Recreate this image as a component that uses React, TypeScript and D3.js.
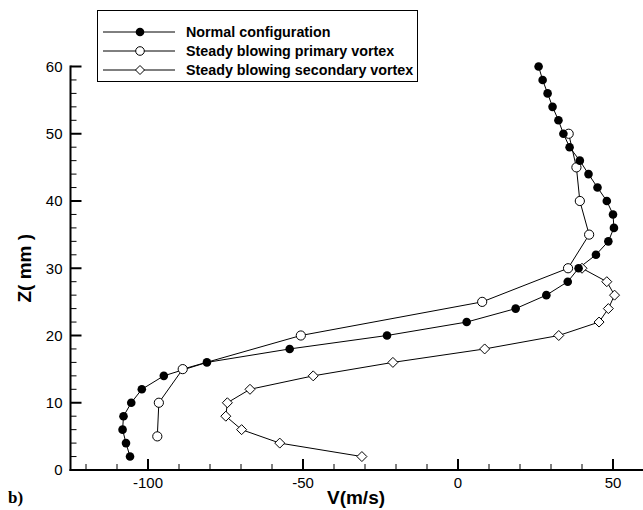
import React from "react";
import * as d3 from "d3";

const zNormal = [2, 4, 6, 8, 10, 12, 14, 16, 18, 20, 22, 24, 26, 28, 30, 32, 34, 36, 38, 40, 42, 44, 46, 48, 50, 52, 54, 56, 58, 60];
const vNormal = [-105.8, -107.1, -108.2, -107.9, -105.4, -102.0, -94.9, -81.0, -54.3, -22.9, 2.8, 18.6, 28.5, 35.4, 38.9, 44.5, 48.5, 50.3, 50.0, 48.0, 45.0, 42.1, 39.3, 36.0, 34.0, 32.4, 30.5, 28.9, 27.3, 26.0];

const zPrimary = [5, 10, 15, 20, 25, 30, 35, 40, 45, 50];
const vPrimary = [-97.0, -96.5, -88.8, -50.7, 7.8, 35.5, 42.3, 39.3, 38.2, 35.7];

const zSecondary = [2, 4, 6, 8, 10, 12, 14, 16, 18, 20, 22, 24, 26, 28, 30];
const vSecondary = [-31.0, -57.5, -69.8, -74.9, -74.4, -67.1, -46.7, -21.0, 8.6, 32.5, 45.5, 48.5, 50.5, 48.0, 40.0];

const xMajorTicks = [-100, -50, 0, 50];
const xMinorTicks = [-120, -110, -90, -80, -70, -60, -40, -30, -20, -10, 10, 20, 30, 40, 60];
const yMajorTicks = [0, 10, 20, 30, 40, 50, 60];
const yMinorTicks = [2, 4, 6, 8, 12, 14, 16, 18, 22, 24, 26, 28, 32, 34, 36, 38, 42, 44, 46, 48, 52, 54, 56, 58];

const legendLabels = ["Normal configuration", "Steady blowing primary vortex", "Steady blowing secondary vortex"];

export default function App() {
  const W = 643, H = 510;
  const x = d3.scaleLinear().domain([-125, 60]).range([70.5, 644]);
  const y = d3.scaleLinear().domain([0, 60]).range([470, 66.5]);
  const line = d3.line<[number, number]>().x(d => x(d[0])).y(d => y(d[1]));

  const ser = (vs: number[], zs: number[]) => vs.map((v, i) => [v, zs[i]] as [number, number]);
  const normal = ser(vNormal, zNormal);
  const primary = ser(vPrimary, zPrimary);
  const secondary = ser(vSecondary, zSecondary);

  const diamond = (cx: number, cy: number, r: number) =>
    `M${cx},${cy - r}L${cx + r},${cy}L${cx},${cy + r}L${cx - r},${cy}Z`;

  const font = "Liberation Sans, Arial, sans-serif";
  const y0 = y(0);
  const x0 = x(-125);

  const legY = [32, 51, 70];

  return (
    <svg width={W} height={H} style={{ position: "absolute", left: 0, top: 0, background: "#fff" }}>
      <rect width={W} height={H} fill="#fff" />
      {/* series */}
      <path d={line(secondary) || ""} fill="none" stroke="#000" strokeWidth={1} />
      <path d={line(primary) || ""} fill="none" stroke="#000" strokeWidth={1} />
      <path d={line(normal) || ""} fill="none" stroke="#000" strokeWidth={1} />
      {secondary.map((d, i) => (
        <path key={"s" + i} d={diamond(x(d[0]), y(d[1]), 5)} fill="#fff" stroke="#000" strokeWidth={1} />
      ))}
      {primary.map((d, i) => (
        <circle key={"p" + i} cx={x(d[0])} cy={y(d[1])} r={4.6} fill="#fff" stroke="#000" strokeWidth={1} />
      ))}
      {normal.map((d, i) => (
        <circle key={"n" + i} cx={x(d[0])} cy={y(d[1])} r={4.3} fill="#000" />
      ))}

      {/* axes */}
      <line x1={x0} x2={x0} y1={y(60) - 1} y2={y0 + 1} stroke="#000" strokeWidth={2} />
      <line x1={x0 - 1} x2={W + 5} y1={y0} y2={y0} stroke="#000" strokeWidth={2} />
      {yMajorTicks.map(t => (
        <g key={"ym" + t}>
          <line x1={x0} x2={x0 + 11} y1={y(t)} y2={y(t)} stroke="#000" strokeWidth={2} />
          <text x={x0 - 8} y={y(t)} dy="0.35em" textAnchor="end" fontFamily={font} fontSize={15}>{t}</text>
        </g>
      ))}
      {yMinorTicks.map(t => (
        <line key={"yn" + t} x1={x0} x2={x0 + 6} y1={y(t)} y2={y(t)} stroke="#000" strokeWidth={1} />
      ))}
      {xMajorTicks.map(t => (
        <g key={"xm" + t}>
          <line x1={x(t)} x2={x(t)} y1={y0} y2={y0 - 11} stroke="#000" strokeWidth={2} />
          <text x={x(t)} y={y0 + 18} textAnchor="middle" fontFamily={font} fontSize={15}>{t}</text>
        </g>
      ))}
      {xMinorTicks.map(t => (
        <line key={"xn" + t} x1={x(t)} x2={x(t)} y1={y0} y2={y0 - 6} stroke="#000" strokeWidth={1} />
      ))}

      {/* axis titles */}
      <text x={356} y={504} textAnchor="middle" fontFamily={font} fontSize={19} fontWeight="bold">V(m/s)</text>
      <text transform={`translate(31,${(y(60) + y0) / 2}) rotate(-90)`} textAnchor="middle" fontFamily={font} fontSize={19} fontWeight="bold">Z( mm )</text>
      <text x={8} y={503} fontFamily="Liberation Serif, Times New Roman, serif" fontSize={17} fontWeight="bold">b)</text>

      {/* legend */}
      <rect x={97.5} y={10.5} width={320} height={71} fill="#fff" stroke="#000" strokeWidth={1} />
      {legendLabels.map((lab, i) => (
        <g key={"l" + i}>
          <line x1={103} x2={175} y1={legY[i]} y2={legY[i]} stroke="#000" strokeWidth={1} />
          {i === 0 && <circle cx={140} cy={legY[i]} r={4.3} fill="#000" />}
          {i === 1 && <circle cx={140} cy={legY[i]} r={4.3} fill="#fff" stroke="#000" />}
          {i === 2 && <path d={diamond(140, legY[i], 4.5)} fill="#fff" stroke="#000" />}
          <text x={186} y={legY[i]} dy="0.35em" fontFamily={font} fontSize={14.3} fontWeight="bold">{lab}</text>
        </g>
      ))}
    </svg>
  );
}
